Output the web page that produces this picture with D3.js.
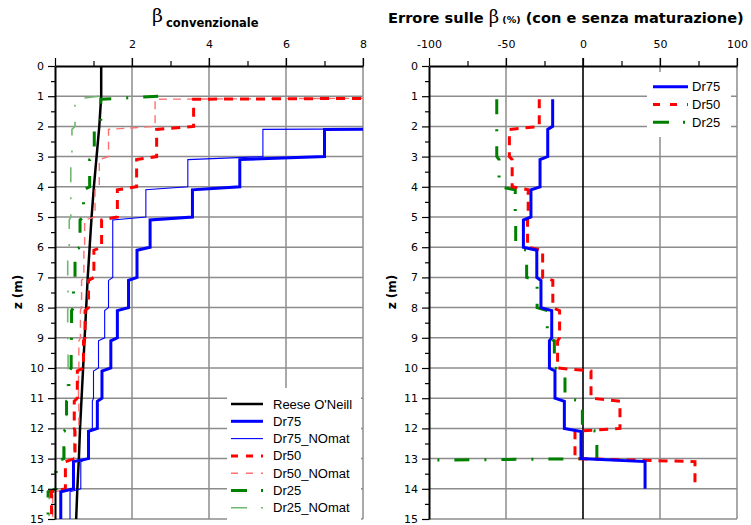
<!DOCTYPE html>
<html>
<head>
<meta charset="utf-8">
<script src="https://cdn.jsdelivr.net/npm/d3@7"></script>
<style>
  body { margin: 0; background: #fff; }
  svg { display: block; }
  text { font-family: "DejaVu Sans", Verdana, sans-serif; fill: #000; }
</style>
</head>
<body>
<div id="chart"></div>
<script>
// ---- data ----
const depthTicks = d3.range(0, 16);
const betaTicks = [2, 4, 6, 8];
const betaMinor = [1, 3, 5, 7];
const errTicks = [-100, -50, 0, 50, 100];
const errMinor = [-75, -25, 25, 75];

// Reese O'Neill beta at every metre
const reeseDepth = d3.range(0, 16);
const reeseBeta = [1.2, 1.2, 1.15, 1.08, 1.01, 0.95, 0.90, 0.85, 0.81, 0.77, 0.73, 0.69, 0.65, 0.62, 0.58, 0.55];

// beta per 1 m layer (first layer top in m, start = value coming in from the top)
const dr75Top = 2, dr75Start = 20;
const dr75 = [7.0, 4.8, 3.57, 2.47, 2.13, 1.91, 1.62, 1.45, 1.22, 1.10, 0.87, 0.48, 0.15];
const dr75NOmat = [5.4, 3.45, 2.36, 1.50, 1.50, 1.39, 1.29, 1.13, 1.00, 0.97, 0.86, 0.67, 0.39];

const dr50Top = 1, dr50Start = 20;
const dr50 = [3.6, 2.64, 2.12, 1.62, 1.21, 1.01, 0.87, 0.78, 0.74, 0.58, 0.50, 0.52, 0.27, -0.09];
const dr50NOmat = [2.6, 1.39, 1.15, 1.04, 0.77, 0.75, 0.69, 0.66, 0.62, 0.61, 0.62, 0.49, 0.47, -0.06];

const dr25Top = 1, dr25Start = 2.68, dr25NOmatStart = 1.15;
const dr25 = [1.19, 1.02, 0.9, 0.74, 0.65, 0.52, 0.48, 0.43, 0.42, 0.36, 0.30, 0.23, 0.03, -0.18];
const dr25NOmat = [0.52, 0.44, 0.41, 0.41, 0.37, 0.33, 0.34, 0.33, 0.34, 0.32, 0.30, 0.25, 0.0, -0.15];

// error (%) per layer, layers from 1 m
const errTop = 1;
const errDr75 = [-19.7, -22.9, -27.9, -33.8, -38.7, -30.0, -27.3, -20.3, -21.8, -18.2, -12.1, -1.3, 40.3];
const errDr50 = [-28.4, -47.8, -46.0, -35.6, -36.0, -26.2, -19.6, -15.2, -16.5, 5.2, 24.0, -5.2, 72.7];
const errDr25 = [-56, -56, -54.5, -44, -43.7, -36.6, -29.8, -23.2, -18.6, -11.7, -0.4, 9];
const errDr25End = [-96, 13.05];

// ---- layout ----
const W = 751, H = 525;
const svg = d3.select("#chart").append("svg").attr("width", W).attr("height", H);

const y = d3.scaleLinear().domain([0, 15]).range([66, 519]);
const xL = d3.scaleLinear().domain([0, 8]).range([55, 363]);
const xR = d3.scaleLinear().domain([-100, 100]).range([429, 737]);

const step = 0.1; // offset of the sloping link between layers

function stepLine(values, top, start, end) {
  const pts = [];
  if (start != null) pts.push([start, top]);
  values.forEach((v, i) => {
    pts.push([v, top + i + step]);
    pts.push([v, top + i + 1]);
  });
  if (end) pts.push(end);
  return pts;
}

const styles = {
  reese:     {stroke: "#000", width: 2.5, dash: null},
  dr75:      {stroke: "#0000ff", width: 3, dash: null},
  dr75n:     {stroke: "#0000ff", width: 1.1, dash: null},
  dr50:      {stroke: "#ff0000", width: 3, dash: "9,7"},
  dr50n:     {stroke: "#ff7070", width: 1.4, dash: "8,6"},
  dr25:      {stroke: "#008000", width: 3, dash: "15,15,2,15"},
  dr25n:     {stroke: "#70b870", width: 1.6, dash: "15,15,2,15"}
};

const gridColor = "#8c8c8c";

function grid(g, x, xs) {
  g.append("g").selectAll("line").data(depthTicks.slice(1)).join("line")
    .attr("x1", x.range()[0]).attr("x2", x.range()[1])
    .attr("y1", d => y(d)).attr("y2", d => y(d))
    .attr("stroke", gridColor).attr("stroke-width", 1.5);
  g.append("g").selectAll("line").data(xs).join("line")
    .attr("x1", d => x(d)).attr("x2", d => x(d))
    .attr("y1", y(0) - 8).attr("y2", y(15))
    .attr("stroke", d => d === 0 ? "#000" : gridColor)
    .attr("stroke-width", d => d === 0 ? 1.6 : 1.5);
}

function drawLine(g, x, pts, st) {
  g.append("path")
    .datum(pts)
    .attr("fill", "none")
    .attr("stroke", st.stroke)
    .attr("stroke-width", st.width)
    .attr("stroke-dasharray", st.dash)
    .attr("d", d3.line().x(d => x(d[0])).y(d => y(d[1])));
}

function axes(g, x, major, minor, labels) {
  const top = g.append("g").attr("transform", `translate(0,${y(0)})`)
    .call(d3.axisTop(x).tickValues(major).tickSize(8).tickSizeOuter(0).tickPadding(10)
      .tickFormat(d => labels.includes(d) ? d : ""));
  top.append("g").call(d3.axisTop(x).tickValues(minor).tickSize(5).tickFormat(""))
    .select(".domain").remove();
  const left = g.append("g").attr("transform", `translate(${x.range()[0]},0)`)
    .call(d3.axisLeft(y).tickValues(depthTicks).tickSize(7).tickSizeOuter(0).tickPadding(4));
  left.append("g").call(d3.axisLeft(y).tickValues(d3.range(0.5, 15, 1)).tickSize(4).tickFormat(""))
    .select(".domain").remove();
  g.selectAll(".tick line").attr("stroke", "#000").attr("stroke-width", 1.2);
  g.selectAll(".domain").attr("stroke", "#000").attr("stroke-width", 2);
  g.selectAll(".tick text").style("font-family", "'DejaVu Sans', Verdana, sans-serif")
    .style("font-size", "11px").attr("fill", "#000");
}

function legend(g, x0, y0, w, h, rows, sx, tx, ry, dy) {
  g.append("rect").attr("x", x0).attr("y", y0).attr("width", w).attr("height", h).attr("fill", "#fff");
  rows.forEach((r, i) => {
    const yy = ry + i * dy;
    const st = styles[r.key];
    g.append("line").attr("x1", sx[0]).attr("x2", sx[1]).attr("y1", yy).attr("y2", yy)
      .attr("stroke", st.stroke).attr("stroke-width", st.width)
      .attr("stroke-dasharray", r.dash || st.dash);
    g.append("text").attr("x", tx).attr("y", yy).attr("dy", "0.35em")
      .style("font-family", "'Liberation Sans', Arial, sans-serif").style("font-size", "13px")
      .text(r.label);
  });
}

// ---- left panel ----
const gl = svg.append("g");
grid(gl, xL, betaTicks);
svg.append("clipPath").attr("id", "clipL").append("rect")
  .attr("x", 0).attr("y", 0).attr("width", xL(8)).attr("height", H);
const sl = gl.append("g").attr("clip-path", "url(#clipL)");
drawLine(sl, xL, reeseDepth.map((z, i) => [reeseBeta[i], z]), styles.reese);
drawLine(sl, xL, stepLine(dr25NOmat, dr25Top, dr25NOmatStart), styles.dr25n);
drawLine(sl, xL, stepLine(dr25, dr25Top, dr25Start), styles.dr25);
drawLine(sl, xL, stepLine(dr50NOmat, dr50Top, dr50Start), styles.dr50n);
drawLine(sl, xL, stepLine(dr50, dr50Top, dr50Start), styles.dr50);
drawLine(sl, xL, stepLine(dr75NOmat, dr75Top, dr75Start), styles.dr75n);
drawLine(sl, xL, stepLine(dr75, dr75Top, dr75Start), styles.dr75);
legend(gl, 227, 388, 134, 140, [
  {key: "reese", label: "Reese O'Neill"},
  {key: "dr75", label: "Dr75"},
  {key: "dr75n", label: "Dr75_NOmat"},
  {key: "dr50", label: "Dr50", dash: "7,8,7,8,3,40"},
  {key: "dr50n", label: "Dr50_NOmat", dash: "7,8,7,8,3,40"},
  {key: "dr25", label: "Dr25", dash: "16,14,2,40"},
  {key: "dr25n", label: "Dr25_NOmat", dash: "16,14,2,40"}
], [231, 263], 273, 404, 17.3);
axes(gl, xL, [0, 2, 4, 6, 8], betaMinor, betaTicks);

// ---- right panel ----
const gr = svg.append("g");
grid(gr, xR, [-50, 0, 50, 100]);
drawLine(gr, xR, stepLine(errDr25, errTop, null, errDr25End), styles.dr25);
drawLine(gr, xR, stepLine(errDr50, errTop), styles.dr50);
drawLine(gr, xR, stepLine(errDr75, errTop), styles.dr75);
legend(gr, 647, 72, 84, 65, [
  {key: "dr75", label: "Dr75"},
  {key: "dr50", label: "Dr50", dash: "7,10,7,10,3,40"},
  {key: "dr25", label: "Dr25", dash: "16,14,2,40"}
], [653, 688], 692, 86.7, 17.8);
axes(gr, xR, errTicks, errMinor, errTicks);

// ---- titles ----
const t1 = svg.append("text").attr("x", 152).attr("y", 22);
t1.append("tspan").style("font-family", "'DejaVu Serif', serif").style("font-size", "19px").text("β");
t1.append("tspan").attr("dx", 3).attr("dy", 5).style("font-weight", "bold").style("font-size", "11.5px")
  .text("convenzionale");

const t2 = svg.append("text").attr("x", 388).attr("y", 23).style("font-weight", "bold").style("font-size", "14.6px");
t2.append("tspan").text("Errore sulle ");
t2.append("tspan").style("font-family", "'DejaVu Serif', serif").style("font-weight", "normal")
  .style("font-size", "18px").text("β");
t2.append("tspan").style("font-size", "9.5px").text(" (%)");
t2.append("tspan").text(" (con e senza maturazione)");

[18, 392].forEach(cx => {
  svg.append("text")
    .attr("transform", `translate(${cx + 4},292) rotate(-90)`)
    .attr("text-anchor", "middle")
    .style("font-weight", "bold").style("font-size", "12px")
    .text("z (m)");
});
</script>
</body>
</html>
